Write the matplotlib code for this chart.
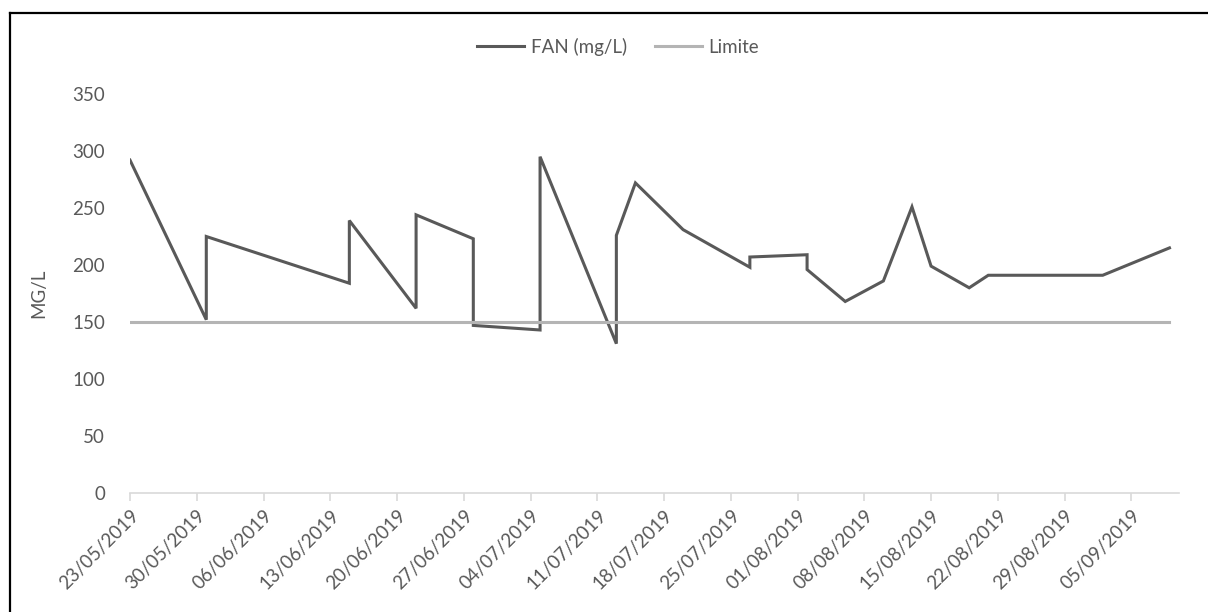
import numpy as np
import pandas as pd
import matplotlib
matplotlib.use('Agg')
import matplotlib.pyplot as plt
import matplotlib.dates as mdates
from matplotlib.lines import Line2D

plt.rcParams['font.family'] = ['Lato', 'DejaVu Sans']

# données
dates = ['2019-05-23', '2019-05-31', '2019-05-31', '2019-06-15', '2019-06-15',
         '2019-06-22', '2019-06-22', '2019-06-28', '2019-06-28', '2019-07-05',
         '2019-07-05', '2019-07-13', '2019-07-13', '2019-07-15', '2019-07-20',
         '2019-07-27', '2019-07-27', '2019-08-02', '2019-08-02', '2019-08-06',
         '2019-08-10', '2019-08-13', '2019-08-15', '2019-08-19', '2019-08-21',
         '2019-09-02', '2019-09-09']
fan = [292, 152, 225, 184, 239, 162, 244, 223, 147, 143,
       295, 131, 226, 272, 231, 198, 207, 209, 196, 168,
       186, 251, 199, 180, 191, 191, 215]
limite = [150] * len(dates)
yticks = [0, 50, 100, 150, 200, 250, 300, 350]

x = pd.to_datetime(dates)
TXT = '#595959'

fig = plt.figure(figsize=(12.08, 6.12), dpi=100)
ax = fig.add_axes([130/1208, 1-493/612, (1179-130)/1208, (493-94)/612])

ax.plot(x, fan, color='#595959', lw=2.2, label='FAN (mg/L)', solid_joinstyle='miter')
ax.plot(x, limite, color='#B4B4B4', lw=2.2, label='Limite')

ax.set_ylim(0, 350)
ax.set_yticks(yticks)
ax.set_xlim(pd.Timestamp('2019-05-23'), pd.Timestamp('2019-09-10'))
ticks = pd.date_range('2019-05-23', '2019-09-05', freq='7D')
ax.set_xticks(ticks)
ax.xaxis.set_major_formatter(mdates.DateFormatter('%d/%m/%Y'))

for s in ['top', 'right', 'left']:
    ax.spines[s].set_visible(False)
ax.spines['bottom'].set_color('#D9D9D9')
ax.spines['bottom'].set_linewidth(1.2)
ax.tick_params(axis='y', length=0, pad=18, labelsize=13.5, labelcolor=TXT)
ax.tick_params(axis='x', length=6, width=1.2, color='#D9D9D9', pad=4,
               labelsize=13.5, labelcolor=TXT)
for lab in ax.get_xticklabels():
    lab.set_rotation(45)
    lab.set_ha('right')
    lab.set_rotation_mode('anchor')

ax.set_ylabel('MG/L', fontsize=13.5, color=TXT)
ax.yaxis.set_label_coords((47 - 130)/1049, 0.5)

fig.legend(loc='center', bbox_to_anchor=(618/1208, 1-47/612), ncol=2,
           frameon=False, fontsize=13.5, labelcolor=TXT, handlelength=2.5,
           handletextpad=0.35, columnspacing=1.5)

# bordure noire (haut et gauche)
xl = 9.5/1208
yt = 1-12.5/612
fig.add_artist(Line2D([xl, xl], [0, yt], color='black', lw=1.6, transform=fig.transFigure))
fig.add_artist(Line2D([xl, 1], [yt, yt], color='black', lw=1.6, transform=fig.transFigure))

fig.savefig('out.png', dpi=100)
